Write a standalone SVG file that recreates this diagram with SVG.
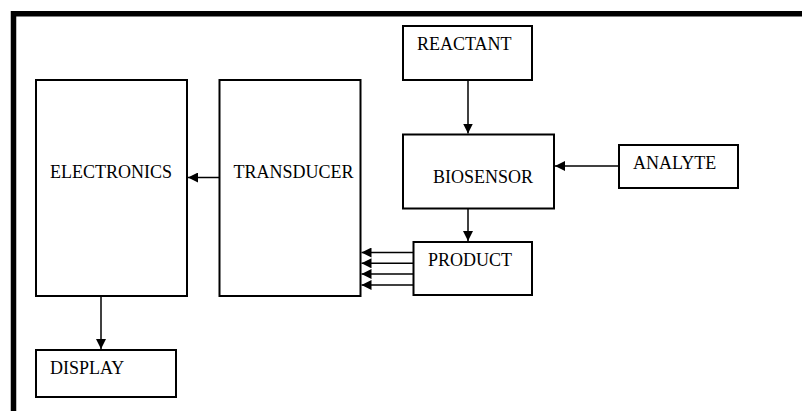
<svg xmlns="http://www.w3.org/2000/svg" width="802" height="411" viewBox="0 0 802 411">
<defs>
<marker id="ah" viewBox="0 0 10 10" refX="10" refY="5" markerWidth="10" markerHeight="10" markerUnits="userSpaceOnUse" orient="auto">
<path d="M0,0 L10,5 L0,10 Z" fill="#000"/>
</marker>
</defs>
<style>
.box{fill:#fff;stroke:#000;stroke-width:2}
.lbl{font-family:"Liberation Serif","Times New Roman",serif;font-size:18px;fill:#000}
.conn line{stroke:#000;stroke-width:1.5;marker-end:url(#ah)}
</style>
<rect width="802" height="411" fill="#fff"/>
<path d="M13.5,411 V13.8 H802" fill="none" stroke="#000" stroke-width="5.5"/>
<g id="reactant"><rect class="box" x="403" y="26" width="129" height="54"/><text class="lbl" x="417" y="50">REACTANT</text></g>
<g id="biosensor"><rect class="box" x="403" y="134.5" width="151" height="74"/><text class="lbl" x="433" y="183">BIOSENSOR</text></g>
<g id="analyte"><rect class="box" x="619" y="145" width="119" height="43"/><text class="lbl" x="633" y="169">ANALYTE</text></g>
<g id="electronics"><rect class="box" x="36" y="80" width="151" height="216"/><text class="lbl" x="50" y="178">ELECTRONICS</text></g>
<g id="transducer"><rect class="box" x="219.5" y="80" width="141" height="216"/><text class="lbl" x="233.5" y="178">TRANSDUCER</text></g>
<g id="product"><rect class="box" x="413.5" y="242" width="118.5" height="53"/><text class="lbl" x="428" y="266">PRODUCT</text></g>
<g id="display"><rect class="box" x="36" y="350" width="140" height="47"/><text class="lbl" x="50" y="374">DISPLAY</text></g>
<g class="conn" id="connectors">
<line x1="468" y1="80" x2="468" y2="133.5"/>
<line x1="619" y1="166" x2="555" y2="166"/>
<line x1="219.5" y1="177.5" x2="188" y2="177.5"/>
<line x1="468" y1="208.5" x2="468" y2="241"/>
<line x1="413.5" y1="252.5" x2="361.5" y2="252.5"/>
<line x1="413.5" y1="263.3" x2="361.5" y2="263.3"/>
<line x1="413.5" y1="274" x2="361.5" y2="274"/>
<line x1="413.5" y1="285" x2="361.5" y2="285"/>
<line x1="101" y1="296" x2="101" y2="349"/>
</g>
</svg>
